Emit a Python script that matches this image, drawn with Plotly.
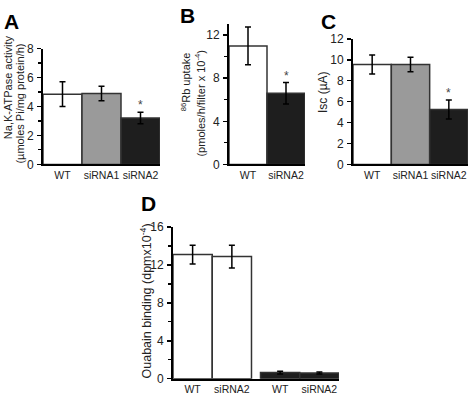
import plotly.graph_objects as go

# ---------------- data ----------------
a_cats = ["WT", "siRNA1", "siRNA2"]
a_vals = [4.85, 4.9, 3.2]
a_err = [0.85, 0.5, 0.4]

b_cats = ["WT", "siRNA2"]
b_vals = [11.0, 6.6]
b_err = [1.75, 1.0]

c_cats = ["WT", "siRNA1", "siRNA2"]
c_vals = [9.55, 9.55, 5.25]
c_err = [0.9, 0.7, 0.9]

d_labels = ["WT", "siRNA2", "WT", "siRNA2"]
d_vals = [13.1, 12.9, 0.65, 0.6]
d_err = [1.0, 1.2, 0.15, 0.1]

WHITE = "#ffffff"
GRAY = "#9a9a9a"
BLACK = "#1e1e1e"
a_colors = [WHITE, GRAY, BLACK]
b_colors = [WHITE, BLACK]
c_colors = [WHITE, GRAY, BLACK]
d_colors = [WHITE, WHITE, BLACK, BLACK]

FONT = "Liberation Sans, Arial, sans-serif"
W, H = 470, 406

fig = go.Figure()

def err(arr):
    return dict(type="data", array=arr, color="black", thickness=1.5, width=3)

line = dict(color="#333333", width=1.5)

fig.add_trace(go.Bar(x=a_cats, y=a_vals, error_y=err(a_err), width=1,
                     marker=dict(color=a_colors, line=line), xaxis="x", yaxis="y"))
fig.add_trace(go.Bar(x=b_cats, y=b_vals, error_y=err(b_err), width=1,
                     marker=dict(color=b_colors, line=line), xaxis="x2", yaxis="y2"))
fig.add_trace(go.Bar(x=c_cats, y=c_vals, error_y=err(c_err), width=1,
                     marker=dict(color=c_colors, line=line), xaxis="x3", yaxis="y3"))

# panel D: two groups separated by a small gap
gap = 0.23
d_x = [i + (gap if i >= 2 else 0) for i in range(len(d_vals))]
fig.add_trace(go.Bar(x=d_x, y=d_vals, error_y=err(d_err), width=1,
                     marker=dict(color=d_colors, line=line), xaxis="x4", yaxis="y4"))

def px_x(a, b):
    return [a / W, b / W]

def px_y(top, bottom):
    return [1 - bottom / H, 1 - top / H]

tickfont = dict(family=FONT, size=12, color="#222")

def xax(domain, anchor, **kw):
    d = dict(domain=domain, anchor=anchor, showline=True, linecolor="black", linewidth=2,
             ticks="", tickangle=0, tickfont=dict(family=FONT, size=10.5, color="#222"),
             showgrid=False, zeroline=False, fixedrange=True)
    d.update(kw)
    return d

def yax(domain, anchor, rng, dtick, minor, **kw):
    d = dict(domain=domain, anchor=anchor, range=rng, dtick=dtick, showline=True,
             linecolor="black", linewidth=2, ticks="outside", ticklen=4, tickwidth=1.5,
             tickcolor="black", tickfont=tickfont, showgrid=False, zeroline=False,
             ticklabelstandoff=1, fixedrange=True)
    if minor:
        d["minor"] = dict(ticks="outside", ticklen=3, tickwidth=1.2, tickcolor="black", dtick=minor)
    d.update(kw)
    return d

fig.update_layout(
    width=W, height=H, margin=dict(l=0, r=0, t=0, b=0),
    paper_bgcolor="white", plot_bgcolor="white", showlegend=False, bargap=0,
    xaxis=xax(px_x(43, 160), "y", range=[-0.5, 2.5]),
    yaxis=yax(px_y(43, 163), "x", [0, 8], 2, 1),
    xaxis2=xax(px_x(229, 305), "y2", range=[-0.5, 1.5]),
    yaxis2=yax(px_y(18, 163), "x2", [0, 13], 4, 2),
    xaxis3=xax(px_x(353, 468), "y3", range=[-0.5, 2.5]),
    yaxis3=yax(px_y(33, 163), "x3", [0, 12], 2, None),
    xaxis4=xax(px_x(173, 339), "y4", range=[-0.5, 3.5 + gap],
               tickmode="array", tickvals=d_x, ticktext=d_labels),
    yaxis4=yax(px_y(228, 385), "x4", [0, 16], 4, 2),
)

ann = []
def text(x, y, s, size=11, angle=0):
    ann.append(dict(xref="paper", yref="paper", x=x / W, y=1 - y / H, text=s,
                    showarrow=False, textangle=angle, xanchor="center", yanchor="middle",
                    font=dict(family=FONT, size=size, color="#222")))

# panel letters
for lbl, x, y in [("A", 11, 15), ("B", 187, 9), ("C", 328, 15), ("D", 148, 204)]:
    ann.append(dict(xref="paper", yref="paper", x=x / W, y=1 - y / H, text="<b>%s</b>" % lbl,
                    showarrow=False, xanchor="center", yanchor="middle",
                    font=dict(family=FONT, size=21, color="black")))

# y-axis titles
text(8, 83, "Na,K-ATPase activity", 11, -90)
text(20, 100, "(µmoles Pi/mg protein/h)", 11, -90)
text(186, 78, "<sup>86</sup>Rb uptake", 11, -90)
text(200, 100, "(pmoles/h/filter x 10<sup>-4</sup>)", 11, -90)
text(323, 88, "Isc (µA)", 12, -90)
text(146, 305, "Ouabain binding (dpmx10<sup>-4</sup>)", 12.5, -90)

# significance asterisks
for xr, yr, cat, v, e in [("x", "y", "siRNA2", a_vals[2], a_err[2]),
                          ("x2", "y2", "siRNA2", b_vals[1], b_err[1]),
                          ("x3", "y3", "siRNA2", c_vals[2], c_err[2])]:
    ann.append(dict(xref=xr, yref=yr, x=cat, y=v + e, text="*", showarrow=False,
                    yanchor="bottom", yshift=-2, font=dict(family=FONT, size=12, color="#444")))

fig.update_layout(annotations=ann)
fig.write_html("out.html", config={"displayModeBar": False, "staticPlot": True},
               post_script="document.body.style.margin='0';document.body.style.padding='0';")
